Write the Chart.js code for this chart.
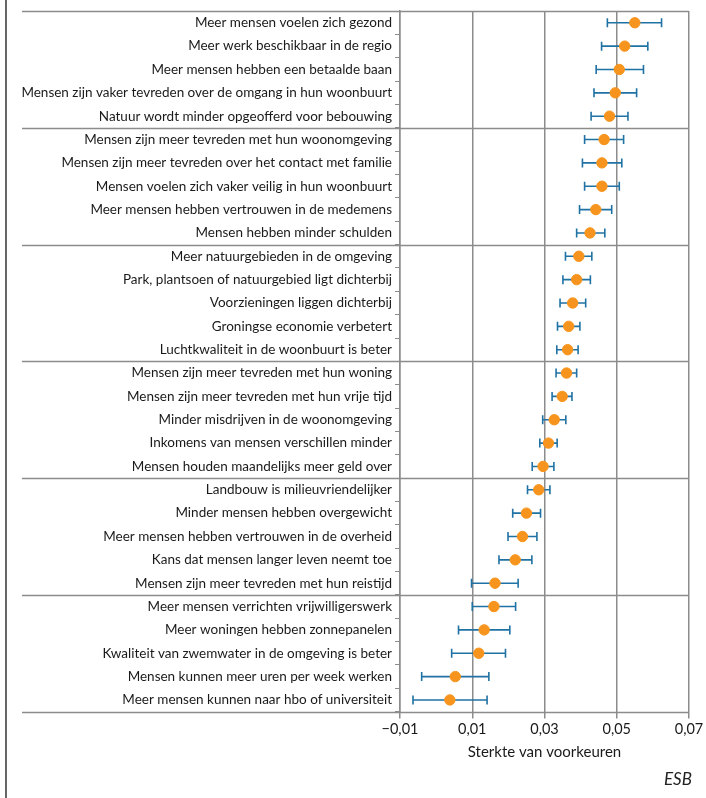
<!DOCTYPE html>
<html>
<head>
<meta charset="utf-8">
<script src="https://cdn.jsdelivr.net/npm/chart.js@4/dist/chart.umd.min.js"></script>
<style>
  html, body { margin: 0; padding: 0; background: #fff; }
  #wrap { position: relative; width: 706px; height: 798px; }
  #frame { position: absolute; left: 5px; top: 0; bottom: 0; width: 1.5px; background: #666; }
  #esb { position: absolute; right: 14px; top: 768px; font: italic 17px Lato, sans-serif; color: #222; }
</style>
</head>
<body>
<div id="wrap">
  <canvas id="chart" width="706" height="798"></canvas>
  <div id="frame"></div>
  <div id="esb">ESB</div>
</div>
<script>
const labels = [
  "Meer mensen voelen zich gezond",
  "Meer werk beschikbaar in de regio",
  "Meer mensen hebben een betaalde baan",
  "Mensen zijn vaker tevreden over de omgang in hun woonbuurt",
  "Natuur wordt minder opgeofferd voor bebouwing",
  "Mensen zijn meer tevreden met hun woonomgeving",
  "Mensen zijn meer tevreden over het contact met familie",
  "Mensen voelen zich vaker veilig in hun woonbuurt",
  "Meer mensen hebben vertrouwen in de medemens",
  "Mensen hebben minder schulden",
  "Meer natuurgebieden in de omgeving",
  "Park, plantsoen of natuurgebied ligt dichterbij",
  "Voorzieningen liggen dichterbij",
  "Groningse economie verbetert",
  "Luchtkwaliteit in de woonbuurt is beter",
  "Mensen zijn meer tevreden met hun woning",
  "Mensen zijn meer tevreden met hun vrije tijd",
  "Minder misdrijven in de woonomgeving",
  "Inkomens van mensen verschillen minder",
  "Mensen houden maandelijks meer geld over",
  "Landbouw is milieuvriendelijker",
  "Minder mensen hebben overgewicht",
  "Meer mensen hebben vertrouwen in de overheid",
  "Kans dat mensen langer leven neemt toe",
  "Mensen zijn meer tevreden met hun reistijd",
  "Meer mensen verrichten vrijwilligerswerk",
  "Meer woningen hebben zonnepanelen",
  "Kwaliteit van zwemwater in de omgeving is beter",
  "Mensen kunnen meer uren per week werken",
  "Meer mensen kunnen naar hbo of universiteit"
];

const estimates = [
  0.0550, 0.0522, 0.0507, 0.0496, 0.0480,
  0.0465, 0.0459, 0.0459, 0.0442, 0.0426,
  0.0395, 0.0389, 0.0378, 0.0367, 0.0364,
  0.0361, 0.0349, 0.0327, 0.0311, 0.0296,
  0.0284, 0.0250, 0.0239, 0.0219, 0.0163,
  0.0160, 0.0133, 0.0118, 0.0053, 0.0038
];

const lowerBounds = [
  0.0474, 0.0458, 0.0443, 0.0437, 0.0429,
  0.0411, 0.0405, 0.0411, 0.0397, 0.0389,
  0.0358, 0.0351, 0.0343, 0.0336, 0.0334,
  0.0332, 0.0321, 0.0295, 0.0287, 0.0266,
  0.0253, 0.0212, 0.0199, 0.0174, 0.0098,
  0.0100, 0.0062, 0.0043, -0.0040, -0.0064
];

const upperBounds = [
  0.0624, 0.0586, 0.0574, 0.0555, 0.0531,
  0.0519, 0.0514, 0.0507, 0.0486, 0.0467,
  0.0431, 0.0427, 0.0414, 0.0398, 0.0393,
  0.0389, 0.0376, 0.0359, 0.0335, 0.0326,
  0.0315, 0.0289, 0.0279, 0.0265, 0.0227,
  0.0220, 0.0204, 0.0192, 0.0146, 0.0141
];

const xTicks = [-0.01, 0.01, 0.03, 0.05, 0.07];
const groupSize = 5;

const gridGray = '#8c8c8c';

// whiskers with caps, drawn under the dots
const errorBars = {
  id: 'errorBars',
  beforeDatasetsDraw(chart) {
    const { ctx, scales: { x, y } } = chart;
    ctx.save();
    ctx.strokeStyle = '#1f72a3';
    ctx.lineWidth = 1.6;
    labels.forEach((_, i) => {
      const py = y.getPixelForValue(i);
      const x1 = x.getPixelForValue(lowerBounds[i]);
      const x2 = x.getPixelForValue(upperBounds[i]);
      ctx.beginPath();
      ctx.moveTo(x1, py); ctx.lineTo(x2, py);
      ctx.moveTo(x1, py - 4.5); ctx.lineTo(x1, py + 4.5);
      ctx.moveTo(x2, py - 4.5); ctx.lineTo(x2, py + 4.5);
      ctx.stroke();
    });
    ctx.restore();
  }
};

// group separator lines across labels and plot
const separators = {
  id: 'separators',
  afterDraw(chart) {
    const { ctx, chartArea, scales: { y } } = chart;
    ctx.save();
    ctx.strokeStyle = gridGray;
    ctx.lineWidth = 1.5;
    for (let i = 0; i <= labels.length; i += groupSize) {
      const py = Math.round(y.getPixelForValue(i - 0.5)) + 0.5;
      ctx.beginPath();
      ctx.moveTo(22, py);
      ctx.lineTo(chartArea.right, py);
      ctx.stroke();
    }
    ctx.restore();
  }
};

new Chart(document.getElementById('chart'), {
  type: 'scatter',
  data: {
    labels: labels,
    datasets: [{
      data: estimates.map((v, i) => ({ x: v, y: labels[i] })),
      backgroundColor: '#f7941d',
      borderColor: '#f7941d',
      pointRadius: 5.2,
      pointHoverRadius: 5.2
    }]
  },
  options: {
    responsive: false,
    animation: false,
    layout: { padding: { top: 11, left: 0, right: 17, bottom: 37 } },
    plugins: {
      legend: { display: false },
      tooltip: { enabled: false }
    },
    scales: {
      y: {
        type: 'category',
        labels: labels,
        offset: true,
        afterFit(scale) { scale.width = 400; },
        grid: {
          offset: true,
          drawOnChartArea: false,
          tickLength: 5,
          color: gridGray,
          lineWidth: 1
        },
        border: { display: true, color: gridGray, width: 1.5 },
        ticks: {
          color: '#1a1a1a',
          padding: 3,
          font: { family: 'Lato', size: 13.5 }
        }
      },
      x: {
        type: 'linear',
        min: -0.01,
        max: 0.07,
        afterBuildTicks(scale) { scale.ticks = xTicks.map(v => ({ value: v })); },
        grid: { color: gridGray, lineWidth: 1.5, tickLength: 7 },
        border: { display: false },
        ticks: {
          color: '#1a1a1a',
          padding: 2,
          font: { family: 'Lato', size: 14.5 },
          callback: v => v.toFixed(2).replace('.', ',').replace('-', '\u2212')
        },
        title: {
          display: true,
          text: 'Sterkte van voorkeuren',
          color: '#1a1a1a',
          font: { family: 'Lato', size: 15 },
          padding: { top: 3, bottom: 0 }
        }
      }
    }
  },
  plugins: [errorBars, separators]
});
</script>
</body>
</html>
